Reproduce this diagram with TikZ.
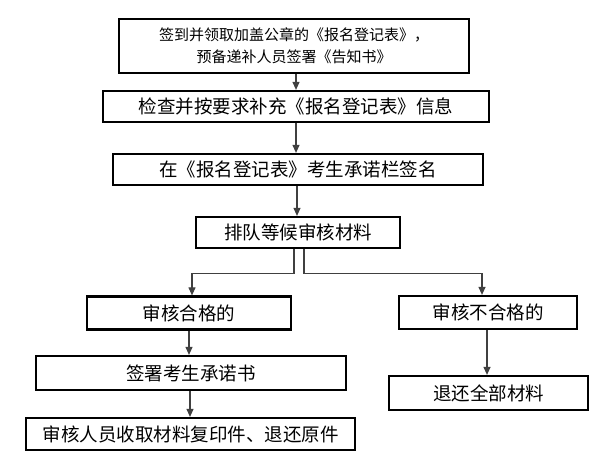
\documentclass[tikz,border=0pt]{standalone}
\usepackage{fontspec}
\setmainfont{Noto Sans CJK SC}
\usetikzlibrary{arrows.meta, positioning, calc}

\begin{document}
\begin{tikzpicture}[
        x=1pt, y=-1pt,
        box/.style={rectangle, draw=black, line width=2.2pt, inner sep=0pt, align=center, font=\fontsize{18.5}{22}\selectfont},
        arrow/.style={-{Triangle[width=7pt,length=8pt]}, draw=black!75, line width=1.1pt}
    ]
    \useasboundingbox (0,0) rectangle (602,463);

    % Nodes
    \node (sign) [box, minimum width=350pt, minimum height=54pt, font=\fontsize{15}{22}\selectfont] at (294,46) {签到并领取加盖公章的《报名登记表》，\\预备递补人员签署《告知书》};
    \node (check) [box, minimum width=386pt, minimum height=31pt] at (296,106.5) {检查并按要求补充《报名登记表》信息};
    \node (commit) [box, minimum width=370pt, minimum height=31pt] at (298,169.5) {在《报名登记表》考生承诺栏签名};
    \node (queue) [box, minimum width=204pt, minimum height=31pt] at (298,232.5) {排队等候审核材料};
    \node (pass) [box, minimum width=204pt, minimum height=33pt] at (189,313) {审核合格的};
    \node (fail) [box, minimum width=178pt, minimum height=33pt] at (488,312.5) {审核不合格的};
    \node (pledge) [box, minimum width=310pt, minimum height=34pt] at (191,373) {签署考生承诺书};
    \node (copy) [box, minimum width=329pt, minimum height=32pt] at (190.5,434) {审核人员收取材料复印件、退还原件};
    \node (back) [box, minimum width=199pt, minimum height=34pt] at (488.5,393) {退还全部材料};

    % Connections
    \draw [arrow] ([xshift=2pt]sign.south) -- ([xshift=2pt]sign.south |- check.north);
    \draw [arrow] (check.south) -- (check.south |- commit.north);
    \draw [arrow] ([xshift=-1pt]commit.south) -- ([xshift=-1pt]commit.south |- queue.north);

    \draw [arrow] ([xshift=-4pt]queue.south) -- ++(0,24) -| ([xshift=3pt]pass.north);
    \draw [arrow] ([xshift=6pt]queue.south) -- ++(0,24) -| ([xshift=-6pt]fail.north);

    \draw [arrow] (pass.south) -- (pass.south |- pledge.north);
    \draw [arrow] ([xshift=-1pt]pledge.south) -- ([xshift=-1pt]pledge.south |- copy.north);
    \draw [arrow] ([xshift=-1pt]fail.south) -- ([xshift=-1pt]fail.south |- back.north);

\end{tikzpicture}
\end{document}
